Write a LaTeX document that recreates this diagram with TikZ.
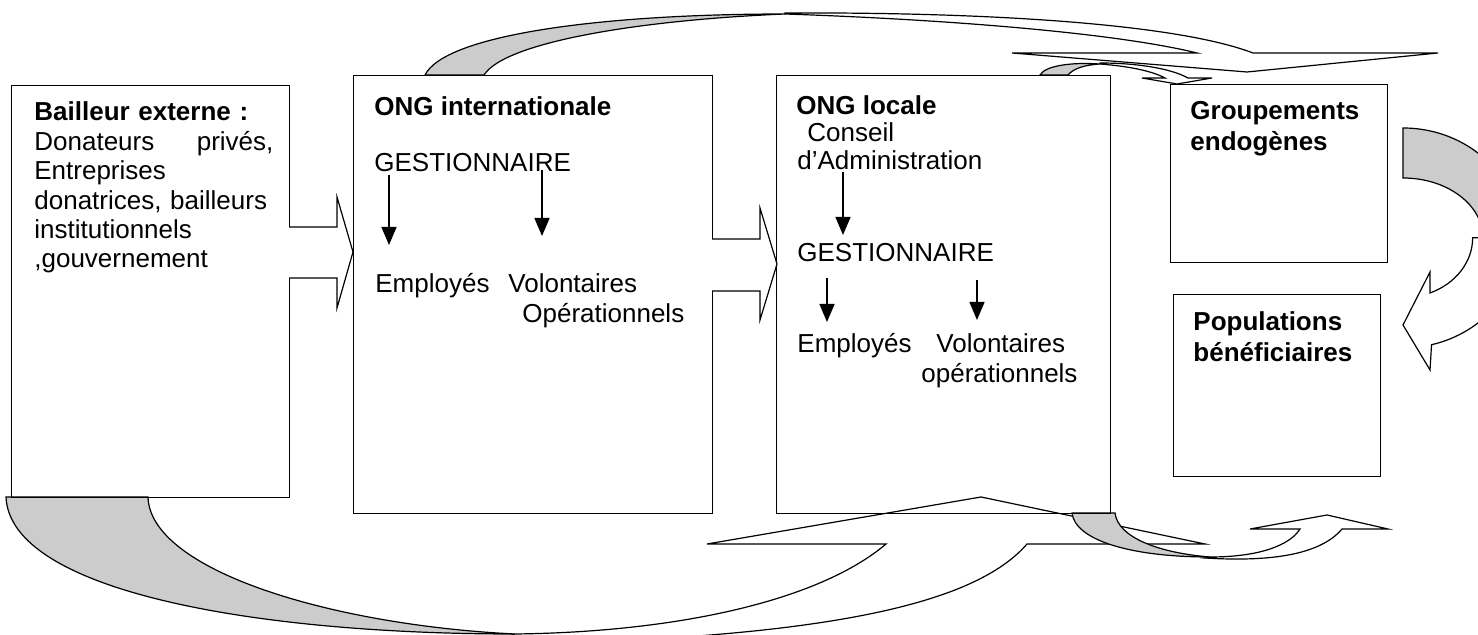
\documentclass[tikz,border=0pt]{standalone}
\usepackage{fontspec}
\setmainfont{Liberation Sans}
\usetikzlibrary{arrows.meta, positioning}
\definecolor{shade}{RGB}{204,204,204}

\begin{document}
\begin{tikzpicture}[x=0.5pt, y=-0.5pt,
    box/.style={draw, line width=0.7pt, anchor=north west, inner sep=0pt},
    txt/.style={anchor=base west, inner sep=0pt, font=\fontsize{13}{14.7}\selectfont},
    ttl/.style={txt, font=\fontsize{13}{14.7}\selectfont\bfseries},
    down/.style={-{Triangle[width=7.5pt, length=9pt]}, line width=0.7pt},
    band/.style={draw, line width=0.6pt, fill=white},
    shd/.style={band, fill=shade}]
\useasboundingbox (0,0) rectangle (1478,635);

% big return arrow under the boxes
\draw[shd] (6,497) -- (148,497) .. controls (150,570) and (330,625) .. (515,634)
  .. controls (250,634) and (10,590) .. (6,497) -- cycle;
\draw[band] (515,634) .. controls (680,632) and (820,600) .. (886,544) -- (707,544)
  -- (981,497) -- (1205,544) -- (1027,544) .. controls (970,610) and (800,640) .. (480,645) -- cycle;

% top arrow
\draw[shd] (425,75) -- (484,75) .. controls (505,42) and (640,20) .. (785,14)
  .. controls (600,14) and (445,35) .. (425,75) -- cycle;
\draw[band] (785,13) .. controls (1000,12) and (1180,25) .. (1253,53) -- (1438,53)
  -- (1247,72) -- (1012,53) -- (1197,53) .. controls (1120,34) and (960,20) .. (785,14) -- cycle;

% small arrow to the groups
\draw[shd] (1040,75) -- (1068,75) .. controls (1074,68) and (1085,65) .. (1100,64)
  .. controls (1070,62) and (1045,66) .. (1040,75) -- cycle;
\draw[band] (1100,63) .. controls (1135,63) and (1170,68) .. (1188,78) -- (1212,78)
  -- (1177,84) -- (1142,78) -- (1165,78) .. controls (1150,70) and (1125,66) .. (1100,64) -- cycle;

% small arrow under the local NGO
\draw[shd] (1072,513) -- (1115,513) .. controls (1118,538) and (1160,553) .. (1210,557)
  .. controls (1130,557) and (1075,540) .. (1072,513) -- cycle;
\draw[band] (1210,557) .. controls (1260,557) and (1290,545) .. (1300,529) -- (1250,529)
  -- (1327,515) -- (1388,529) -- (1342,529) .. controls (1320,555) and (1270,562) .. (1205,558) -- cycle;

% arrow on the right
\draw[shd] (1403,128) arc[start angle=-90, end angle=0, x radius=118, y radius=110]
  -- (1483,238) arc[start angle=0, end angle=-90, x radius=80, y radius=60] -- cycle;
\draw[band] (1521,238) arc[start angle=0, end angle=76, x radius=118, y radius=110]
  -- (1430,370) -- (1403,325) -- (1430,272) -- (1430,293)
  arc[start angle=67, end angle=0, x radius=70, y radius=60] -- cycle;

% boxes
\node[box, minimum width=139pt, minimum height=206pt] (bail) at (11,85) {};
\node[box, minimum width=179.5pt, minimum height=219pt] (ongi) at (353,75) {};
\node[box, minimum width=167pt, minimum height=219pt] (ongl) at (776,75) {};
\node[box, minimum width=108.5pt, minimum height=89pt] (grp) at (1170,84) {};
\node[box, minimum width=103.5pt, minimum height=91pt] (pop) at (1173,294) {};

% hollow arrows between boxes
\draw[band] (289,227) -- (337,227) -- (337,197) -- (353,252) -- (337,308) -- (337,278) -- (289,278);
\draw[band] (712,239) -- (760,239) -- (760,208) -- (777,264) -- (760,320) -- (760,291) -- (712,291);

% external donor
\node[txt, text width=119.5pt, align=left] (bailtxt) at (34,121)
  {\textbf{Bailleur externe :}\\ Donateurs\hfill privés,\\ Entreprises\\ donatrices, bailleurs\\
   institutionnels\\ ,gouvernement};

% international NGO
\node[ttl] (ongitl) at (374,116) {ONG internationale};
\node[txt] (gesti) at (374,172) {GESTIONNAIRE};
\node[txt] (empi) at (375,293) {Employés};
\node[txt] (voli) at (508,293) {Volontaires};
\node[txt] (opi) at (522,323) {Opérationnels};
\coordinate (gi1) at (389,175);
\coordinate (gi2) at (542,170);
\draw[down] (gi1) -- (389,245);
\draw[down] (gi2) -- (542,236);

% local NGO
\node[ttl] (ongltl) at (796,115) {ONG locale};
\node[txt] (ca1) at (807,142) {Conseil};
\node[txt] (ca2) at (797,170) {d’Administration};
\node[txt] (gestl) at (797,262) {GESTIONNAIRE};
\node[txt] (empl) at (797,353) {Employés};
\node[txt] (voll) at (936,353) {Volontaires};
\node[txt] (opl) at (921,383) {opérationnels};
\coordinate (gl0) at (843,172);
\coordinate (gl1) at (827,278);
\coordinate (gl2) at (977,280);
\draw[down] (gl0) -- (843,235);
\draw[down] (gl1) -- (827,322);
\draw[down] (gl2) -- (977,320);

% groups and beneficiaries
\node[ttl] (grp1) at (1190,120) {Groupements};
\node[ttl] (grp2) at (1190,151) {endogènes};
\node[ttl] (pop1) at (1193,331) {Populations};
\node[ttl] (pop2) at (1193,362) {bénéficiaires};
\end{tikzpicture}
\end{document}
